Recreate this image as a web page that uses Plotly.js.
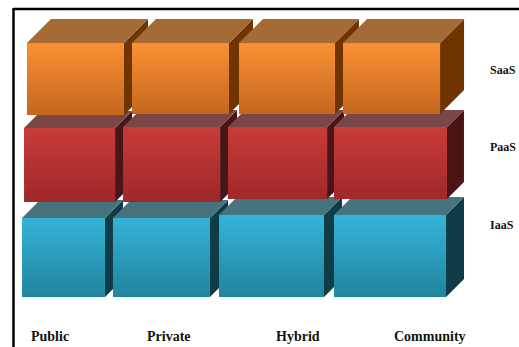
<!DOCTYPE html>
<html>
<head>
<meta charset="utf-8">
<script src="https://cdn.plot.ly/plotly-3.0.1.min.js"></script>
<style>
  html, body { margin: 0; padding: 0; background: #ffffff; }
  #chart { width: 519px; height: 347px; }
</style>
</head>
<body>
<div id="chart"></div>
<script>
// ---------------- data ----------------
const categories = ['Public', 'Private', 'Hybrid', 'Community'];
const seriesNames = ['IaaS', 'PaaS', 'SaaS'];
const iaasValues = [7.9, 7.9, 8.2, 8.2];
const paasValues = [7.4, 7.5, 7.2, 7.2];
const saasValues = [7.2, 7.1, 7.1, 7.1];

// ---------------- geometry / style ----------------
const X_PX = 105;   // pixels per x unit
const Y_PX = 10;    // pixels per y unit
const rowGap = [0, 1.6, 1.3];            // gap below each row (y units)
const rowOffset = [
  [-0.514, -0.648, -0.638, -0.543],
  [-0.495, -0.552, -0.552, -0.543],
  [-0.467, -0.467, -0.448, -0.457]
];
const rowWidth = [
  [0.790, 0.924, 1.000, 1.067],
  [0.867, 0.924, 0.943, 1.076],
  [0.924, 0.924, 0.914, 0.924]
];
const rowDepthPx = [18, 17, 24];
const frontTop =    ['#34b4d8', '#c93b3a', '#fa9033'];
const frontBottom = ['#21849f', '#9e2828', '#c4661e'];
const topColor =    ['#47737e', '#7b4646', '#a66a37'];
const sideColor =   ['#0f3c47', '#4a1516', '#6f3400'];

const rowValues = [iaasValues, paasValues, saasValues];

// cumulative stacking with gaps
const traces = [];
let prevTop = categories.map(() => 0);
rowValues.forEach((vals, r) => {
  const bases = prevTop.map(t => t + rowGap[r]);
  const tops = bases.map((b, i) => b + vals[i]);
  const dx = rowDepthPx[r] / X_PX, dy = rowDepthPx[r] / Y_PX;
  const fx = [], fy = [], tx = [], ty = [], sx = [], sy = [];
  categories.forEach((c, i) => {
    const L = i + rowOffset[r][i], R = L + rowWidth[r][i];
    const b = bases[i], t = tops[i];
    fx.push(L, R, R, L, L, null); fy.push(b, b, t, t, b, null);
    tx.push(L, R, R + dx, L + dx, L, null); ty.push(t, t, t + dy, t + dy, t, null);
    sx.push(R, R + dx, R + dx, R, R, null); sy.push(b, b + dy, t + dy, t, b, null);
  });
  const common = { type: 'scatter', mode: 'lines', line: { width: 0 }, fill: 'toself',
                   hoverinfo: 'skip', showlegend: false, connectgaps: false };
  traces.push(Object.assign({}, common, { x: sx, y: sy, fillcolor: sideColor[r], name: seriesNames[r] + ' side' }));
  traces.push(Object.assign({}, common, { x: tx, y: ty, fillcolor: topColor[r], name: seriesNames[r] + ' top' }));
  traces.push(Object.assign({}, common, {
    x: fx, y: fy, fillcolor: frontTop[r], name: seriesNames[r],
    fillgradient: { type: 'vertical', colorscale: [[0, frontBottom[r]], [1, frontTop[r]]] }
  }));
  prevTop = tops;
});

// label positions (style)
const catLabelX = [-0.252, 0.890, 2.110, 3.367];
const catLabelY = -3.9;
const seriesLabelX = 3.924;
const seriesLabelY = [7.2, 15.0, 22.7];

const annotations = [];
categories.forEach((c, i) => annotations.push({
  x: catLabelX[i], y: catLabelY, xref: 'x', yref: 'y', text: '<b>' + c + '</b>',
  showarrow: false, xanchor: 'center', yanchor: 'middle',
  font: { family: 'Liberation Serif, Times New Roman, serif', size: 14, color: '#111111' }
}));
seriesNames.forEach((s, r) => annotations.push({
  x: seriesLabelX, y: seriesLabelY[r], xref: 'x', yref: 'y', text: '<b>' + s + '</b>',
  showarrow: false, xanchor: 'left', yanchor: 'middle',
  font: { family: 'Liberation Serif, Times New Roman, serif', size: 12, color: '#111111' }
}));

const layout = {
  width: 519, height: 347,
  margin: { l: 0, r: 0, t: 0, b: 0, pad: 0 },
  paper_bgcolor: '#ffffff', plot_bgcolor: '#ffffff',
  xaxis: { range: [-76 / X_PX, (519 - 76) / X_PX], visible: false, fixedrange: true },
  yaxis: { range: [-5.0, 29.7], visible: false, fixedrange: true },
  annotations: annotations,
  shapes: [
    { type: 'line', xref: 'paper', yref: 'paper', x0: 13.5 / 519, x1: 1, y0: 1 - 9 / 347, y1: 1 - 9 / 347,
      line: { color: '#000000', width: 2.5 } },
    { type: 'line', xref: 'paper', yref: 'paper', x0: 13.5 / 519, x1: 13.5 / 519, y0: 0, y1: 1 - 8 / 347,
      line: { color: '#000000', width: 2.5 } }
  ]
};

Plotly.newPlot('chart', traces, layout, { staticPlot: true, displayModeBar: false });
</script>
</body>
</html>
